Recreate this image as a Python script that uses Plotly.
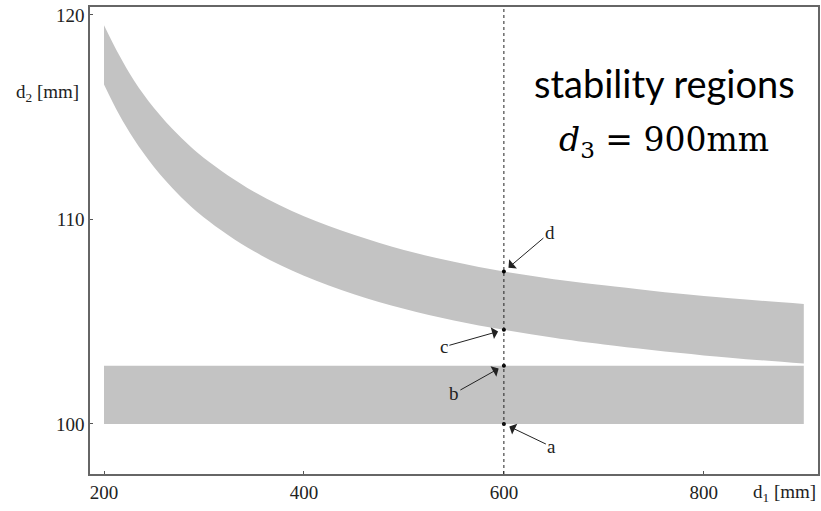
import plotly.graph_objects as go

# ---- data ----
d1_upper = [200, 215, 230, 250, 275, 300, 350, 400, 450, 500, 550, 600, 650, 700, 800, 900]
upper_top = [119.5, 118.05, 116.8, 115.45, 114.1, 113.0, 111.35, 110.15, 109.25, 108.5,
             107.93, 107.45, 107.08, 106.78, 106.25, 105.87]
upper_bottom = [116.6, 115.14, 113.92, 112.57, 111.2, 110.1, 108.44, 107.24, 106.34, 105.63,
                105.06, 104.6, 104.21, 103.88, 103.35, 102.95]

d1_lower = [200, 900]
lower_bottom = [100.0, 100.0]
lower_top = [102.85, 102.85]

d1_marker = 600
point_labels = ["a", "b", "c", "d"]
point_values = [100.0, 102.85, 104.6, 107.45]
label_offsets = {"a": (48, 23), "b": (-50, 28), "c": (-60, 17), "d": (46, -39)}

x_ticks = [200, 400, 600, 800]
y_ticks = [100, 110, 120]

gray = "#c3c3c3"
serif = "Liberation Serif, Times New Roman, serif"

fig = go.Figure()

# lower stability band
fig.add_trace(go.Scatter(x=d1_lower, y=lower_bottom, mode="lines",
                         line=dict(width=0, color=gray), showlegend=False, hoverinfo="skip"))
fig.add_trace(go.Scatter(x=d1_lower, y=lower_top, mode="lines", fill="tonexty",
                         fillcolor=gray, line=dict(width=0, color=gray),
                         showlegend=False, hoverinfo="skip"))

# upper stability band
fig.add_trace(go.Scatter(x=d1_upper, y=upper_bottom, mode="lines",
                         line=dict(width=0, color=gray, shape="spline", smoothing=1),
                         showlegend=False, hoverinfo="skip"))
fig.add_trace(go.Scatter(x=d1_upper, y=upper_top, mode="lines", fill="tonexty",
                         fillcolor=gray, line=dict(width=0, color=gray, shape="spline", smoothing=1),
                         showlegend=False, hoverinfo="skip"))

# vertical dotted line at d1 = 600
fig.add_shape(type="line", x0=d1_marker, x1=d1_marker, xref="x", y0=0, y1=1, yref="paper",
              line=dict(color="#222", width=1, dash="dot"))

# points
fig.add_trace(go.Scatter(x=[d1_marker] * len(point_values), y=point_values, mode="markers",
                         marker=dict(color="black", size=4), showlegend=False))

for lab, val in zip(point_labels, point_values):
    ax, ay = label_offsets[lab]
    fig.add_annotation(x=d1_marker, y=val, xref="x", yref="y", text=lab,
                       showarrow=True, ax=ax, ay=ay, arrowhead=1, arrowsize=2,
                       arrowwidth=1, arrowcolor="#222", standoff=6,
                       font=dict(family=serif, size=19, color="#222"))

# axis titles
fig.add_annotation(text="d<sub>2</sub> [mm]", xref="paper", yref="paper",
                   x=-0.012, y=0.815, xanchor="right", yanchor="middle", showarrow=False,
                   font=dict(family=serif, size=19, color="#222"))
fig.add_annotation(text="d<sub>1</sub> [mm]", xref="paper", yref="paper",
                   x=1.0, y=-0.04, xanchor="right", yanchor="middle", showarrow=False,
                   font=dict(family=serif, size=19, color="#222"))

# title texts
fig.add_annotation(text="stability regions", xref="paper", yref="paper",
                   x=0.789, y=0.838, xanchor="center", yanchor="middle", showarrow=False,
                   font=dict(family="Lato, Noto Sans, sans-serif", size=38, color="black"))
fig.add_annotation(text="<i>d</i><sub>3</sub> = 900mm", xref="paper", yref="paper",
                   x=0.789, y=0.712, xanchor="center", yanchor="middle", showarrow=False,
                   font=dict(family="DejaVu Serif, serif", size=33, color="black"))

fig.update_xaxes(range=[186, 914.2], tickvals=x_ticks, ticks="inside", ticklen=3,
                 tickcolor="#555", showline=True, linecolor="#666", linewidth=1.5,
                 mirror=True, showgrid=False, zeroline=False,
                 tickfont=dict(family=serif, size=19, color="#222"))
fig.update_yaxes(range=[97.55, 120.39], tickvals=y_ticks, ticks="inside", ticklen=3,
                 tickcolor="#555", showline=True, linecolor="#666", linewidth=1.5,
                 mirror=True, showgrid=False, zeroline=False,
                 tickfont=dict(family=serif, size=19, color="#222"))

fig.update_layout(width=821, height=511, margin=dict(l=90, r=1, t=7, b=37),
                  plot_bgcolor="white", paper_bgcolor="white", showlegend=False)

fig.write_html("out.html")
